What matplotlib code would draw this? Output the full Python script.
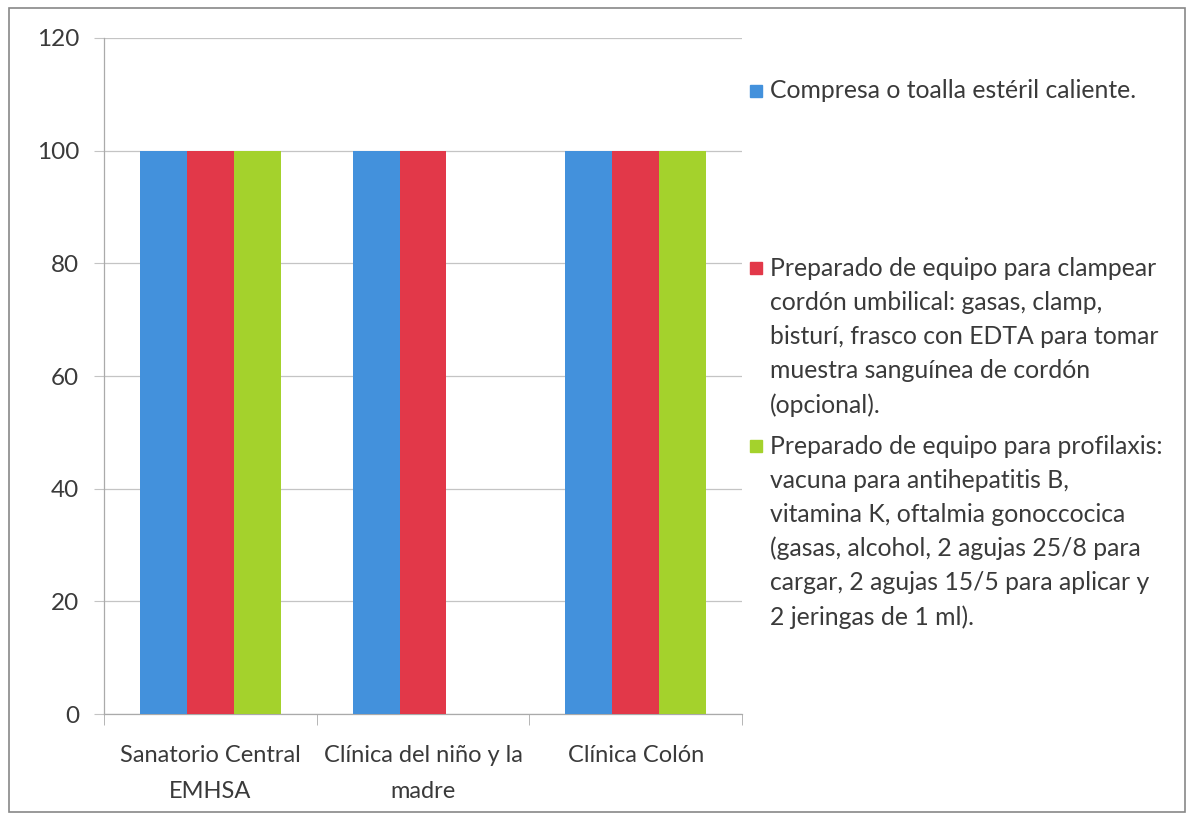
import matplotlib
matplotlib.use("Agg")
import matplotlib.pyplot as plt
import matplotlib.patches as mpatches
import numpy as np

plt.rcParams['font.family'] = ['Lato', 'DejaVu Sans']

categories = ["Sanatorio Central\nEMHSA", "Clínica del niño y la\nmadre", "Clínica Colón"]
series_names = [
    "Compresa o toalla estéril caliente.",
    "Preparado de equipo para clampear\ncordón umbilical: gasas, clamp,\nbisturí, frasco con EDTA para tomar\nmuestra sanguínea de cordón\n(opcional).",
    "Preparado de equipo para profilaxis:\nvacuna para antihepatitis B,\nvitamina K, oftalmia gonoccocica\n(gasas, alcohol, 2 agujas 25/8 para\ncargar, 2 agujas 15/5 para aplicar y\n2 jeringas de 1 ml).",
]
compresa = [100, 100, 100]
clampeo = [100, 100, 100]
profilaxis = [100, 0, 100]
series_values = [compresa, clampeo, profilaxis]
colors = ["#4391DC", "#E23849", "#A4D22C"]
y_ticks = [0, 20, 40, 60, 80, 100, 120]

W, H = 1191, 822
fig = plt.figure(figsize=(W / 100, H / 100), dpi=100)
ax = fig.add_axes([104 / W, 1 - 714 / H, (742 - 104) / W, (714 - 38) / H])

x = np.arange(len(categories))
bw = 0.22
for i, (vals, c) in enumerate(zip(series_values, colors)):
    ax.bar(x + (i - 1) * bw, vals, width=bw, color=c, edgecolor='none', zorder=3)

txt = '#3A3A3A'
ax.set_xlim(-0.5, len(categories) - 0.5)
ax.set_ylim(0, 120)
ax.set_yticks(y_ticks)
ax.set_yticklabels([str(v) for v in y_ticks], fontsize=17.5, color=txt)
ax.yaxis.grid(True, color='#C4C4C4', linewidth=0.9, zorder=0)
ax.tick_params(axis='y', length=7, color='#C4C4C4', pad=11)

ax.set_xticks(x)
ax.set_xticklabels(categories, fontsize=17, color=txt, linespacing=1.9)
ax.tick_params(axis='x', which='major', length=0, pad=22)
ax.set_xticks(np.arange(len(categories) + 1) - 0.5, minor=True)
ax.tick_params(axis='x', which='minor', length=8, color='#AAAAAA')

for s in ['top', 'right']:
    ax.spines[s].set_visible(False)
for s in ['left', 'bottom']:
    ax.spines[s].set_color('#AAAAAA')
    ax.spines[s].set_linewidth(0.9)

# legend
entry_top = [91, 268, 446]
line_step = 34.2
for name, c, y0 in zip(series_names, colors, entry_top):
    fig.patches.append(mpatches.Rectangle((750 / W, 1 - (y0 + 6) / H), 12 / W, 12 / H,
                                          transform=fig.transFigure, color=c, figure=fig))
    for k, line in enumerate(name.split("\n")):
        fig.text(770 / W, 1 - (y0 + k * line_step) / H, line, fontsize=17.8,
                 color=txt, va='center', ha='left')

# border
fig.patches.append(mpatches.Rectangle((9 / W, 1 - 812 / H), (1185 - 9) / W, (812 - 8) / H,
                                      transform=fig.transFigure, fill=False,
                                      edgecolor='#888888', linewidth=1.2, figure=fig))

fig.savefig("out.png", dpi=100)
